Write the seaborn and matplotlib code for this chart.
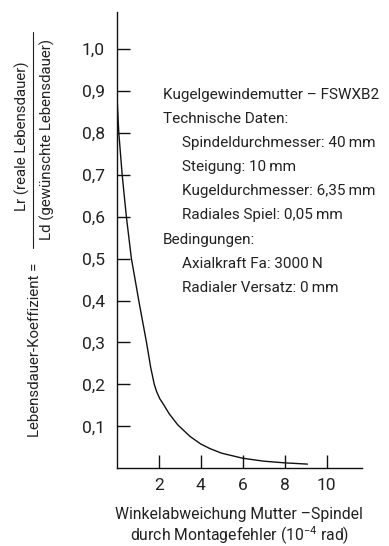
import numpy as np
import pandas as pd
import matplotlib
matplotlib.use("Agg")
import matplotlib.pyplot as plt
import seaborn as sns
from matplotlib.lines import Line2D

# Werte
winkel = [0.0, 0.1, 0.26, 0.46, 0.7, 0.88, 1.05, 1.42, 1.62, 1.79, 1.9, 2.05, 2.22, 2.5, 2.9,
          3.49, 4.0, 4.44, 5.0, 6.0, 7.0, 8.0, 9.08]
koeff = [0.9, 0.8, 0.7, 0.6, 0.5, 0.449, 0.4, 0.3, 0.24, 0.2, 0.183, 0.166, 0.153, 0.13, 0.104,
         0.076, 0.058, 0.047, 0.036, 0.024, 0.017, 0.013, 0.010]

y_ticks = [0.1, 0.2, 0.3, 0.4, 0.5, 0.6, 0.7, 0.8, 0.9, 1.0]
x_ticks = [2, 4, 6, 8, 10]

info_lines = [
    ("Kugelgewindemutter – FSWXB2", 0),
    ("Technische Daten:", 0),
    ("Spindeldurchmesser: 40\u2009mm", 1),
    ("Steigung: 10\u2009mm", 1),
    ("Kugeldurchmesser: 6,35\u2009mm", 1),
    ("Radiales Spiel: 0,05\u2009mm", 1),
    ("Bedingungen:", 0),
    ("Axialkraft Fa: 3000\u2009N", 1),
    ("Radialer Versatz: 0\u2009mm", 1),
]

df = pd.DataFrame({"winkel": winkel, "koeff": koeff})

sns.set_theme(style="white")
plt.rcParams["font.family"] = ["Roboto", "DejaVu Sans"]
plt.rcParams["mathtext.fontset"] = "custom"
plt.rcParams["mathtext.rm"] = "Roboto"
plt.rcParams["mathtext.it"] = "Roboto:italic"
plt.rcParams["mathtext.bf"] = "Roboto:bold"

txt = "#222222"
W, H = 389, 546
fig = plt.figure(figsize=(W / 100, H / 100), dpi=100)
ax = fig.add_axes([116.7 / W, 1 - 468.3 / H, (362 - 116.7) / W, (468.3 - 12) / H])

sns.lineplot(data=df, x="winkel", y="koeff", color="#111111", lw=1.0, ax=ax)

ax.set_xlim(0, 11.68)
ax.set_ylim(0, 1.088)
ax.set_xticks(x_ticks)
ax.set_xticklabels([str(t) for t in x_ticks])
ax.set_yticks(y_ticks)
ax.set_yticklabels([f"{t:.1f}".replace(".", ",") for t in y_ticks])
ax.tick_params(axis="both", direction="in", length=9.6, width=1.0, color="#111111",
               labelsize=12.5, labelcolor=txt, bottom=True, left=True)
ax.tick_params(axis="y", pad=8.4)
ax.tick_params(axis="x", pad=7)
for s in ["top", "right"]:
    ax.spines[s].set_visible(False)
for s in ["left", "bottom"]:
    ax.spines[s].set_color("#111111")
    ax.spines[s].set_linewidth(1.0)
ax.set_xlabel("")
ax.set_ylabel("")
ax.patch.set_alpha(0)

# Textblock mit technischen Daten
for i, (line, indent) in enumerate(info_lines):
    xp = 162.7 if indent == 0 else 181.7
    yp = 95 + i * 24.1
    fig.text(xp / W, 1 - yp / H, line, ha="left", va="center", fontsize=11, color=txt)

# x-Achsenbeschriftung
fig.text(239.4 / W, 1 - 519 / H, "Winkelabweichung Mutter –Spindel", ha="center", va="baseline",
         fontsize=11.3, color=txt)
fig.text(239.4 / W, 1 - 541 / H, "durch Montagefehler (10$^{-4}$ rad)", ha="center", va="baseline",
         fontsize=11.3, color=txt)

# y-Achsenbeschriftung als Bruch
fig.text(35 / W, 1 - 350 / H, "Lebensdauer-Koeffizient =", rotation=90, ha="center", va="center",
         fontsize=10.8, color=txt)
fig.text(22 / W, 1 - 136 / H, "Lr (reale Lebensdauer)", rotation=90, ha="center", va="center",
         fontsize=10.8, color=txt)
fig.text(47 / W, 1 - 140 / H, "Ld (gewünschte Lebensdauer)", rotation=90, ha="center", va="center",
         fontsize=10.8, color=txt)
fig.add_artist(Line2D([32.5 / W, 32.5 / W], [1 - 32 / H, 1 - 248 / H], transform=fig.transFigure,
                      color=txt, lw=0.8))

fig.savefig("out.png", dpi=100)
